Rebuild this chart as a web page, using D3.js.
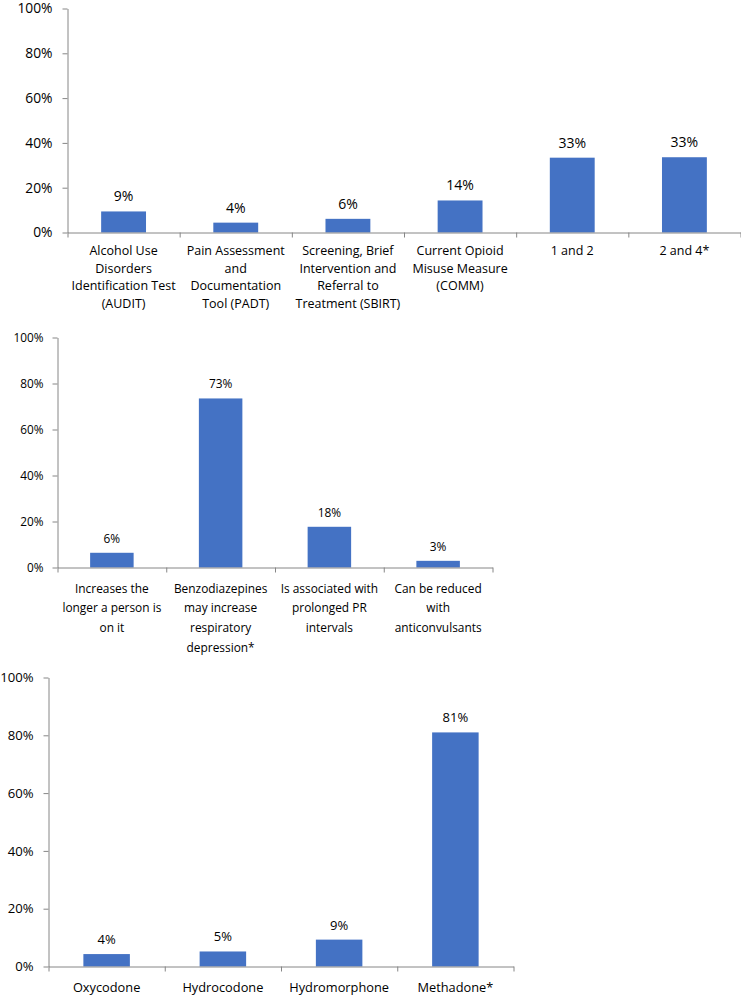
<!DOCTYPE html>
<html>
<head>
<meta charset="utf-8">
<script src="https://cdn.jsdelivr.net/npm/d3@7"></script>
<style>
  html, body { margin: 0; padding: 0; background: #fff; }
  svg { display: block; }
  text { font-family: "Open Sans", Lato, sans-serif; fill: #000; }
</style>
</head>
<body>
<svg id="chart" width="741" height="995"></svg>
<script>
// ---- Data ----
const categories1 = [
  "Alcohol Use\nDisorders\nIdentification Test\n(AUDIT)",
  "Pain Assessment\nand\nDocumentation\nTool (PADT)",
  "Screening, Brief\nIntervention and\nReferral to\nTreatment (SBIRT)",
  "Current Opioid\nMisuse Measure\n(COMM)",
  "1 and 2",
  "2 and 4*"
];
const values1 = [0.094, 0.044, 0.061, 0.143, 0.334, 0.336];
const labels1 = ["9%", "4%", "6%", "14%", "33%", "33%"];

const categories2 = [
  "Increases the\nlonger a person is\non it",
  "Benzodiazepines\nmay increase\nrespiratory\ndepression*",
  "Is associated with\nprolonged PR\nintervals",
  "Can be reduced\nwith\nanticonvulsants"
];
const values2 = [0.064, 0.735, 0.177, 0.029];
const labels2 = ["6%", "73%", "18%", "3%"];

const categories3 = ["Oxycodone", "Hydrocodone", "Hydromorphone", "Methadone*"];
const values3 = [0.043, 0.052, 0.093, 0.810];
const labels3 = ["4%", "5%", "9%", "81%"];

const yTicks = [0, 0.2, 0.4, 0.6, 0.8, 1.0];

// ---- Drawing ----
const svg = d3.select("#chart");
const BAR = "#4472C4";
const AXIS = "#868686";

function drawChart(cfg) {
  const { cats, vals, labs, x0, x1, yTop, yBot, tickFont, catFont, valFont, lineH, catOffset, tickPad } = cfg;
  const g = svg.append("g");
  const n = cats.length;

  const x = d3.scaleBand().domain(d3.range(n)).range([x0, x1])
    .paddingInner(0.6).paddingOuter(0.3);
  const xEdge = d3.scaleLinear().domain([0, n]).range([x0, x1]);
  const y = d3.scaleLinear().domain([0, 1]).range([yBot, yTop]);

  // bars
  g.selectAll("rect.bar").data(vals).join("rect")
    .attr("class", "bar")
    .attr("x", (d, i) => x(i))
    .attr("width", x.bandwidth())
    .attr("y", d => y(d))
    .attr("height", d => yBot - y(d))
    .attr("fill", BAR);

  // y axis
  const ya = g.append("g").attr("transform", `translate(${x0},0)`)
    .call(d3.axisLeft(y).tickValues(yTicks).tickFormat(d3.format(".0%"))
      .tickSize(5).tickPadding(tickPad).tickSizeOuter(0));
  ya.select(".domain").attr("stroke", AXIS);
  ya.selectAll(".tick line").attr("stroke", AXIS);
  ya.selectAll(".tick text").attr("font-size", tickFont).attr("font-family", null).attr("fill", "#000");

  // x axis (ticks at category boundaries)
  const xa = g.append("g").attr("transform", `translate(0,${yBot})`)
    .call(d3.axisBottom(xEdge).tickValues(d3.range(n + 1)).tickFormat("")
      .tickSize(5).tickSizeOuter(0));
  xa.select(".domain").attr("stroke", AXIS);
  xa.selectAll(".tick line").attr("stroke", AXIS);

  // category labels
  const cl = g.selectAll("text.cat").data(cats).join("text")
    .attr("class", "cat")
    .attr("text-anchor", "middle")
    .attr("font-size", catFont)
    .attr("x", (d, i) => x(i) + x.bandwidth() / 2)
    .attr("y", yBot + catOffset);
  cl.each(function (d) {
    const t = d3.select(this);
    d.split("\n").forEach((line, k) => {
      t.append("tspan")
        .attr("x", t.attr("x"))
        .attr("dy", k === 0 ? 0 : lineH)
        .text(line);
    });
  });

  // value labels
  g.selectAll("text.val").data(vals).join("text")
    .attr("class", "val")
    .attr("text-anchor", "middle")
    .attr("font-size", valFont)
    .attr("x", (d, i) => x(i) + x.bandwidth() / 2)
    .attr("y", d => y(d) - 10)
    .text((d, i) => labs[i]);
}

drawChart({ cats: categories1, vals: values1, labs: labels1,
  x0: 67.5, x1: 740.5, yTop: 8.5, yBot: 232.5,
  tickFont: 13.8, catFont: 12.5, valFont: 14, lineH: 17.7, catOffset: 22.5, tickPad: 10 });

drawChart({ cats: categories2, vals: values2, labs: labels2,
  x0: 57.5, x1: 492.5, yTop: 337.5, yBot: 567.5,
  tickFont: 11.8, catFont: 11.9, valFont: 11.9, lineH: 19.8, catOffset: 25, tickPad: 9 });

drawChart({ cats: categories3, vals: values3, labs: labels3,
  x0: 48.5, x1: 513.5, yTop: 677.5, yBot: 966.5,
  tickFont: 13.1, catFont: 12.8, valFont: 13, lineH: 18, catOffset: 25, tickPad: 10 });
</script>
</body>
</html>
